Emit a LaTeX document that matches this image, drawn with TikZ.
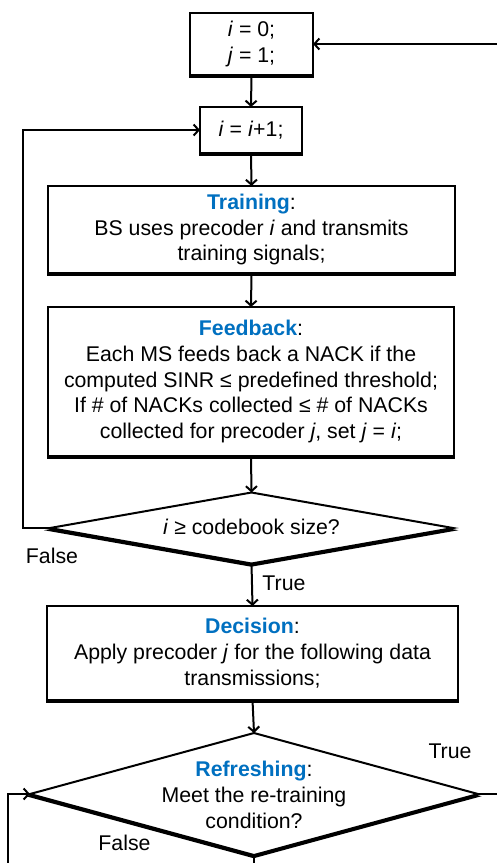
\documentclass[tikz,border=0pt]{standalone}
\usepackage{fontspec}
\setmainfont{Liberation Sans}
\usetikzlibrary{shapes.geometric,arrows.meta}
\definecolor{hblue}{RGB}{0,112,192}
\begin{document}
\begin{tikzpicture}[x=1pt,y=-1pt,
  txt/.style={font=\fontsize{21.3}{25.7}\selectfont, align=center, inner sep=0pt},
  shadowed/.style={preaction={draw=black, fill=black, line width=2pt, transform canvas={xshift=-0.3pt, yshift=-2.2pt}}},
  box/.style={txt, draw, line width=2pt, fill=white, outer sep=0pt, shadowed},
  dia/.style={diamond, draw, line width=2pt, fill=white, inner sep=0pt, outer sep=0pt, shadowed},
  conn/.style={line width=2pt, -{Straight Barb[length=5pt,width=11pt]}},
  lab/.style={txt}
]
\useasboundingbox (0,0) rectangle (497,863);
\clip (0,0) rectangle (497,863);
\fill[white] (0,0) rectangle (497,863);

\node[box, minimum width=123pt, minimum height=62pt] (b1) at (251.5,44) {\textit{i} = 0;\\\textit{j} = 1;};
\node[box, minimum width=102pt, minimum height=46pt] (b2) at (251,130) {\textit{i} = \textit{i}+1;};
\node[box, minimum width=407pt, minimum height=87pt] (b3) at (251.5,229.5)
  {\textbf{\color{hblue}Training}:\\BS uses precoder \textit{i} and transmits\\training signals;};
\node[box, minimum width=406pt, minimum height=149pt] (b4) at (251,381.5)
  {\textbf{\color{hblue}Feedback}:\\Each MS feeds back a NACK if the\\computed SINR ≤ predefined threshold;\\If \# of NACKs collected ≤ \# of NACKs\\collected for precoder \textit{j}, set \textit{j} = \textit{i};};
\node[dia, minimum width=403pt, minimum height=71pt] (d1) at (251.5,528) {};
\node[txt] (d1t) at (251.5,527) {\textit{i} ≥ codebook size?};
\node[box, minimum width=411pt, minimum height=94pt] (dec) at (252.5,653)
  {\textbf{\color{hblue}Decision}:\\Apply precoder \textit{j} for the following data\\transmissions;};
\node[dia, minimum width=448pt, minimum height=122pt] (d2) at (254,794) {};
\node[txt] (d2t) at (254,795) {\textbf{\color{hblue}Refreshing}:\\Meet the re-training\\condition?};

\coordinate (rt) at (520,400);
\coordinate (fl) at (8,890);

\draw[conn] (b1.south) -- (b2.north);
\draw[conn] (b2.south) -- (b3.north);
\draw[conn] (b3.south) -- (b4.north);
\draw[conn] (b4.south) -- (d1.north);
\draw[conn] (d1.west) -- ++(-27,0) |- (b2.west);
\draw[conn] (d1.south) -- (dec.north);
\draw[conn] (dec.south) -- (d2.north);
\draw[conn] (d2.east) -| (rt) |- (b1.east);
\draw[conn] (d2.south) |- (fl) |- (d2.west);

\node[lab] (f1) at (52,556) {False};
\node[lab] (t1) at (284,583) {True};
\node[lab] (t2) at (450,751) {True};
\node[lab] (f2) at (124.5,843) {False};
\end{tikzpicture}
\end{document}
